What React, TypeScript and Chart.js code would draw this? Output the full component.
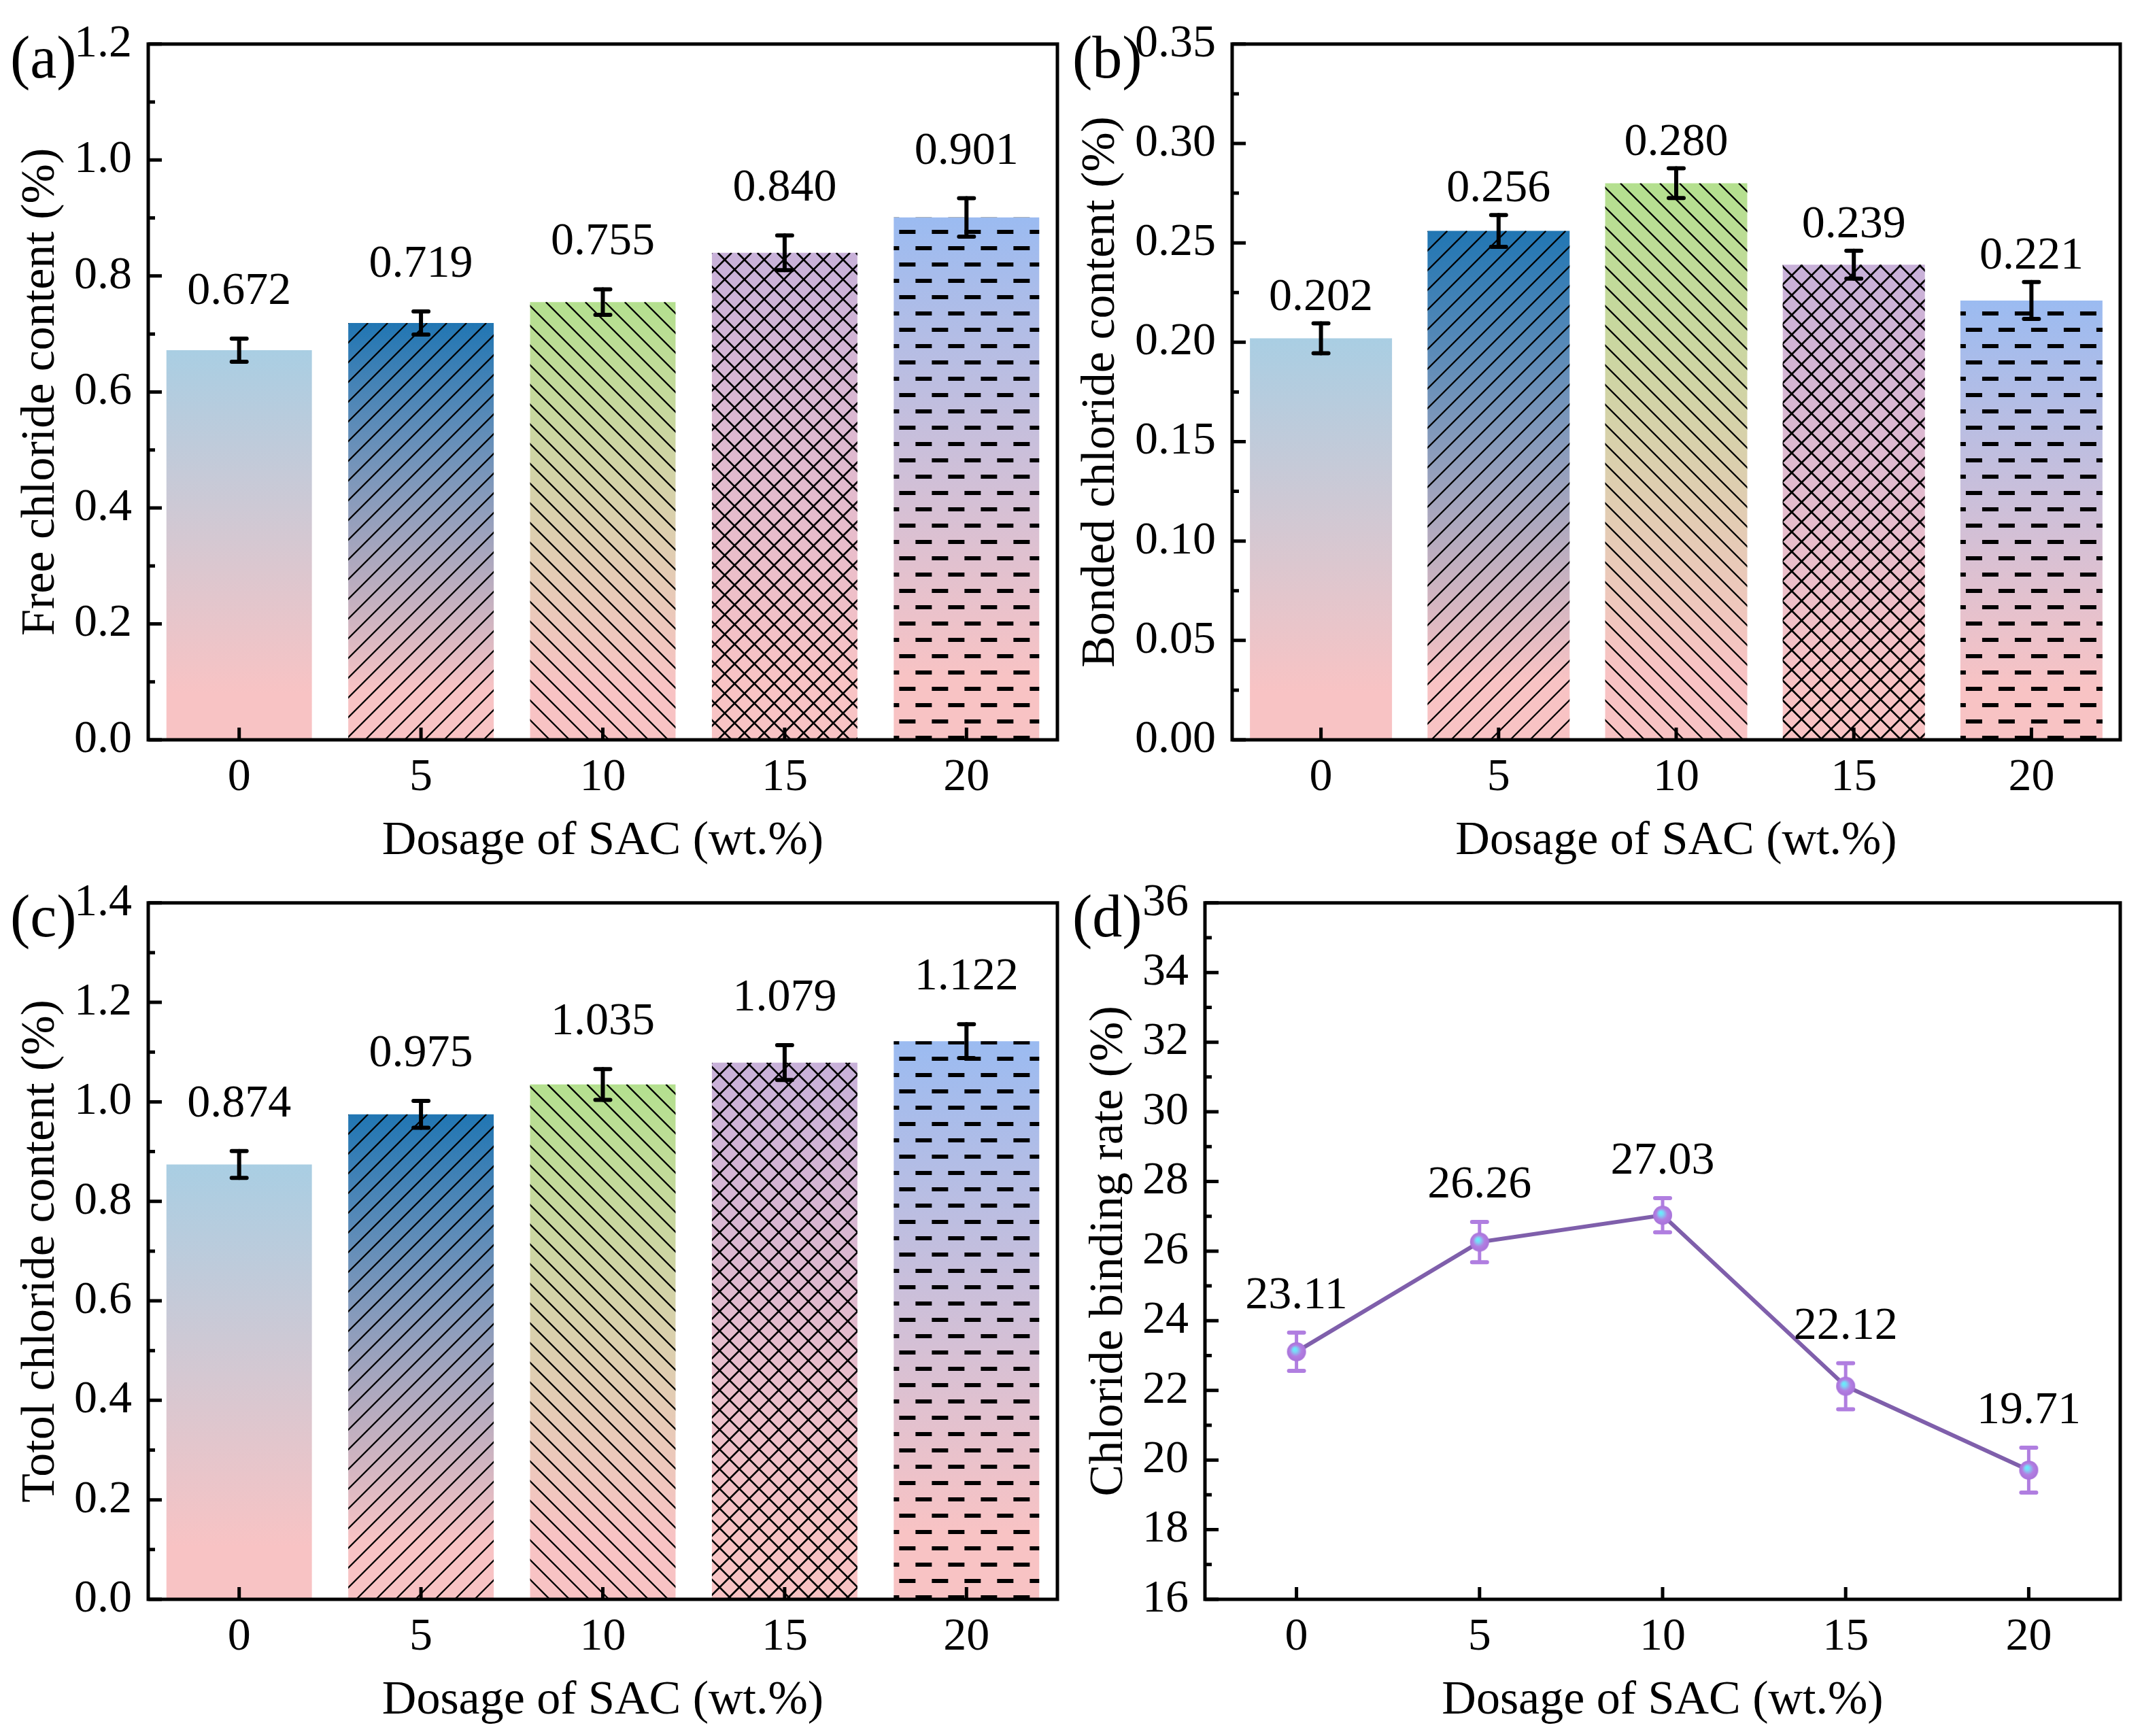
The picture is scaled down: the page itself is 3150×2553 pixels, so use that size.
import { useEffect, useRef } from "react";
import { Chart, registerables } from "chart.js";

Chart.register(...registerables);

// data
const dosages = ["0", "5", "10", "15", "20"];

const freeChloride = [0.672, 0.719, 0.755, 0.84, 0.901];
const freeChlorideErr = [0.02, 0.02, 0.022, 0.03, 0.033];

const bondedChloride = [0.202, 0.256, 0.28, 0.239, 0.221];
const bondedChlorideErr = [0.0075, 0.008, 0.0075, 0.007, 0.0093];

const totalChloride = [0.874, 0.975, 1.035, 1.079, 1.122];
const totalChlorideErr = [0.027, 0.027, 0.031, 0.035, 0.034];

const bindingRate = [23.11, 26.26, 27.03, 22.12, 19.71];
const bindingRateErr = [0.55, 0.58, 0.49, 0.66, 0.645];

const barTopColors = ["#a9cee3", "#2176b3", "#b4e08f", "#c8b1d9", "#9bbbf1"];
const barBottomColor = "#f8c3c4";
const hatches = ["none", "fwd", "back", "cross", "dash"];

const FONT = '"Liberation Serif", "Times New Roman", serif';
const TICK_SIZE = 68;
const TITLE_SIZE = 70;
const W = 1575;
const H = 1290;
const X_AXIS_H = 200;

Chart.defaults.font.family = FONT;
Chart.defaults.color = "#000";

type Area = { l: number; t: number; r: number; b: number };

type PanelSpec = {
  tag: string;
  left: number;
  top: number;
  area: Area;
  kind: "bar" | "line";
  values: number[];
  errs: number[];
  yMin: number;
  yMax: number;
  yStep: number;
  tickDecimals: number;
  valueDecimals: number;
  yTitle: string;
  yTitlePad: number;
  valueGap: number;
};

const panels: PanelSpec[] = [
  {
    tag: "(a)",
    left: 0,
    top: 0,
    area: { l: 218, t: 51, r: 1555, b: 1088 },
    kind: "bar",
    values: freeChloride,
    errs: freeChlorideErr,
    yMin: 0,
    yMax: 1.2,
    yStep: 0.2,
    tickDecimals: 1,
    valueDecimals: 3,
    yTitle: "Free chloride content (%)",
    yTitlePad: 19,
    valueGap: 51,
  },
  {
    tag: "(b)",
    left: 1575,
    top: 0,
    area: { l: 237, t: 51, r: 1543, b: 1088 },
    kind: "bar",
    values: bondedChloride,
    errs: bondedChlorideErr,
    yMin: 0,
    yMax: 0.35,
    yStep: 0.05,
    tickDecimals: 2,
    valueDecimals: 3,
    yTitle: "Bonded chloride content (%)",
    yTitlePad: 3,
    valueGap: 20,
  },
  {
    tag: "(c)",
    left: 0,
    top: 1263,
    area: { l: 218, t: 51, r: 1555, b: 1089 },
    kind: "bar",
    values: totalChloride,
    errs: totalChlorideErr,
    yMin: 0,
    yMax: 1.4,
    yStep: 0.2,
    tickDecimals: 1,
    valueDecimals: 3,
    yTitle: "Totol chloride content (%)",
    yTitlePad: 19,
    valueGap: 51,
  },
  {
    tag: "(d)",
    left: 1575,
    top: 1263,
    area: { l: 197, t: 51, r: 1543, b: 1089 },
    kind: "line",
    values: bindingRate,
    errs: bindingRateErr,
    yMin: 16,
    yMax: 36,
    yStep: 2,
    tickDecimals: 0,
    valueDecimals: 2,
    yTitle: "Chloride binding rate (%)",
    yTitlePad: 15,
    valueGap: 36,
  },
];

function makeBall() {
  const c = document.createElement("canvas");
  c.width = 30;
  c.height = 30;
  const g = c.getContext("2d")!;
  const grad = g.createRadialGradient(12, 11, 0, 15, 15, 14);
  grad.addColorStop(0, "#5ef6ff");
  grad.addColorStop(0.25, "#7fd4f6");
  grad.addColorStop(0.6, "#b27fe2");
  grad.addColorStop(1, "#a873da");
  g.fillStyle = grad;
  g.beginPath();
  g.arc(15, 15, 14, 0, Math.PI * 2);
  g.fill();
  return c;
}

function drawHatch(ctx: CanvasRenderingContext2D, kind: string, x0: number, y0: number, x1: number, y1: number) {
  if (kind === "none") return;
  ctx.save();
  ctx.beginPath();
  ctx.rect(x0, y0, x1 - x0, y1 - y0);
  ctx.clip();
  ctx.strokeStyle = "#000";
  ctx.fillStyle = "#000";
  const h = y1 - y0;
  const sp = 29;
  ctx.lineWidth = kind === "cross" ? 2.7 : 2.3;
  if (kind === "fwd" || kind === "cross") {
    ctx.beginPath();
    for (let c = x0 - h - sp; c < x1 + sp; c += sp) {
      ctx.moveTo(c, y1);
      ctx.lineTo(c + h, y0);
    }
    ctx.stroke();
  }
  if (kind === "back" || kind === "cross") {
    ctx.beginPath();
    for (let c = x0 - h - sp; c < x1 + sp; c += sp) {
      ctx.moveTo(c, y0);
      ctx.lineTo(c + h, y1);
    }
    ctx.stroke();
  }
  if (kind === "dash") {
    for (let k = 0, yy = y1 - 3; yy > y0 - 3; k++, yy -= 24) {
      const off = k % 2 === 0 ? -16 : 8;
      for (let xx = x0 + off - 48; xx < x1; xx += 48) ctx.fillRect(xx, yy - 3, 24, 6);
    }
  }
  ctx.restore();
}

function drawErrors(chart: Chart, p: PanelSpec, color: string, stem: number) {
  const ctx = chart.ctx;
  const y = chart.scales.y;
  const meta = chart.getDatasetMeta(0);
  ctx.save();
  ctx.strokeStyle = color;
  ctx.lineCap = "round";
  meta.data.forEach((el, i) => {
    const x = (el as any).x;
    const top = y.getPixelForValue(p.values[i] + p.errs[i]);
    const bot = y.getPixelForValue(p.values[i] - p.errs[i]);
    ctx.lineWidth = stem;
    ctx.beginPath();
    ctx.moveTo(x, top);
    ctx.lineTo(x, bot);
    ctx.stroke();
    ctx.lineWidth = 6;
    ctx.beginPath();
    ctx.moveTo(x - 11, top);
    ctx.lineTo(x + 11, top);
    ctx.moveTo(x - 11, bot);
    ctx.lineTo(x + 11, bot);
    ctx.stroke();
  });
  ctx.restore();
}

function makeDecor(p: PanelSpec) {
  return {
    id: "decor" + p.tag,
    beforeDatasetsDraw(chart: Chart) {
      if (p.kind === "line") drawErrors(chart, p, "#b07ee0", 5);
    },
    afterDatasetsDraw(chart: Chart) {
      const ctx = chart.ctx;
      const { left, top, right, bottom } = chart.chartArea;
      const y = chart.scales.y;
      const x = chart.scales.x;
      const meta = chart.getDatasetMeta(0);

      if (p.kind === "bar") {
        meta.data.forEach((el, i) => {
          const b = (el as any).getProps(["x", "y", "base", "width"], true);
          drawHatch(ctx, hatches[i], b.x - b.width / 2, b.y, b.x + b.width / 2, b.base);
        });
        drawErrors(chart, p, "#000", 6);
      }

      // value labels
      ctx.save();
      ctx.fillStyle = "#000";
      ctx.font = `${TICK_SIZE}px ${FONT}`;
      ctx.textAlign = "center";
      ctx.textBaseline = "alphabetic";
      meta.data.forEach((el, i) => {
        const py = y.getPixelForValue(p.values[i] + p.errs[i]) - p.valueGap;
        ctx.fillText(p.values[i].toFixed(p.valueDecimals), (el as any).x, py);
      });
      ctx.restore();

      // frame and inward ticks
      ctx.save();
      ctx.strokeStyle = "#000";
      ctx.lineWidth = 5;
      ctx.lineJoin = "miter";
      ctx.strokeRect(left, top, right - left, bottom - top);
      ctx.beginPath();
      const ticks = y.ticks.map((t) => t.value);
      ticks.forEach((v, i) => {
        const py = y.getPixelForValue(v);
        ctx.moveTo(left, py);
        ctx.lineTo(left + 20, py);
        if (i < ticks.length - 1) {
          const pm = y.getPixelForValue((v + ticks[i + 1]) / 2);
          ctx.moveTo(left, pm);
          ctx.lineTo(left + 10, pm);
        }
      });
      dosages.forEach((_, i) => {
        const px = x.getPixelForTick(i);
        ctx.moveTo(px, bottom);
        ctx.lineTo(px, bottom - 18);
      });
      ctx.stroke();
      ctx.restore();

      // panel tag
      ctx.save();
      ctx.fillStyle = "#000";
      ctx.font = `88px ${FONT}`;
      ctx.textAlign = "left";
      ctx.textBaseline = "alphabetic";
      ctx.fillText(p.tag, p.left === 0 ? 15 : 2, 114);
      ctx.restore();
    },
  };
}

function buildConfig(p: PanelSpec): any {
  const tickFont = { family: FONT, size: TICK_SIZE };
  const titleFont = { family: FONT, size: TITLE_SIZE };

  const gradient = (c: any) => {
    const i = c.dataIndex ?? 0;
    if (c.type !== "data" || !c.chart.chartArea) return barTopColors[i];
    const ys = c.chart.scales.y;
    const t = ys.getPixelForValue(p.values[i]);
    const b = ys.getPixelForValue(0);
    const g = c.chart.ctx.createLinearGradient(0, t, 0, b);
    g.addColorStop(0, barTopColors[i]);
    g.addColorStop(0.88, barBottomColor);
    g.addColorStop(1, barBottomColor);
    return g;
  };

  const dataset =
    p.kind === "bar"
      ? {
          data: p.values,
          backgroundColor: gradient,
          borderWidth: 0,
          barPercentage: 0.8,
          categoryPercentage: 1,
        }
      : {
          data: p.values,
          borderColor: "#7f5fab",
          borderWidth: 6,
          fill: false,
          tension: 0,
          pointStyle: makeBall(),
          pointRadius: 14,
        };

  return {
    type: p.kind,
    data: { labels: dosages, datasets: [dataset] },
    options: {
      animation: false,
      responsive: false,
      maintainAspectRatio: false,
      devicePixelRatio: 1,
      layout: {
        padding: { left: 0, top: p.area.t, right: W - p.area.r, bottom: H - p.area.b - X_AXIS_H },
      },
      plugins: { legend: { display: false }, tooltip: { enabled: false } },
      scales: {
        x: {
          type: "category",
          offset: true,
          grid: { display: false, drawTicks: false },
          border: { display: false },
          ticks: { font: tickFont, color: "#000", padding: 15, maxRotation: 0, autoSkip: false },
          title: {
            display: true,
            text: "Dosage of SAC (wt.%)",
            font: titleFont,
            color: "#000",
            padding: { top: 0, bottom: 8 },
          },
          afterFit: (s: any) => {
            s.height = X_AXIS_H;
          },
        },
        y: {
          type: "linear",
          min: p.yMin,
          max: p.yMax,
          grid: { display: false, drawTicks: false },
          border: { display: false },
          ticks: {
            stepSize: p.yStep,
            font: tickFont,
            color: "#000",
            padding: 24,
            autoSkip: false,
            callback: (v: any) => Number(v).toFixed(p.tickDecimals),
          },
          title: {
            display: true,
            text: p.yTitle,
            font: titleFont,
            color: "#000",
            padding: { top: p.yTitlePad, bottom: 0 },
          },
          afterFit: (s: any) => {
            s.width = p.area.l;
          },
        },
      },
    },
    plugins: [makeDecor(p)],
  };
}

function ChartPanel({ panel }: { panel: PanelSpec }) {
  const canvasRef = useRef<HTMLCanvasElement>(null);

  useEffect(() => {
    const chart = new Chart(canvasRef.current!, buildConfig(panel));
    return () => chart.destroy();
  }, [panel]);

  return (
    <canvas
      ref={canvasRef}
      width={W}
      height={H}
      style={{ position: "absolute", left: panel.left, top: panel.top, width: W, height: H }}
    />
  );
}

export default function App() {
  return (
    <div
      style={{
        position: "absolute",
        left: 0,
        top: 0,
        width: 3150,
        height: 2553,
        background: "#fff",
        overflow: "hidden",
      }}
    >
      {panels.map((p) => (
        <ChartPanel key={p.tag} panel={p} />
      ))}
    </div>
  );
}
